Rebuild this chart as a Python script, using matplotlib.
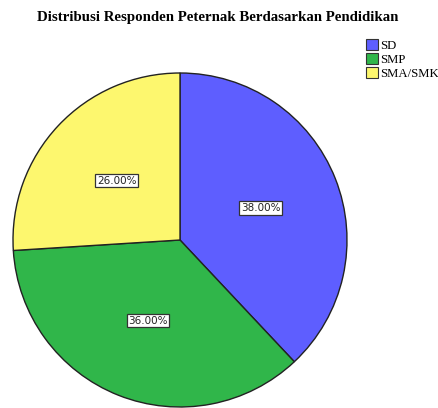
import matplotlib.pyplot as plt
from matplotlib.patches import Patch

# Data
categories = ['SD', 'SMP', 'SMA/SMK']
values = [38, 36, 26]
colors = ['#5e5eff', '#30b64a', '#fdf76e']

fig = plt.figure(figsize=(4.38, 4.08), dpi=100)

# axes box placed so the pie sits where it does in the reference
cx, cy, r = 180, 240, 167
ax = fig.add_axes([(cx - r) / 438, (408 - cy - r) / 408, 2 * r / 438, 2 * r / 408])

wedges, texts, autotexts = ax.pie(
    values,
    colors=colors,
    startangle=90,
    counterclock=False,
    autopct='%.2f%%',
    pctdistance=0.52,
    radius=1,
    wedgeprops=dict(edgecolor='#222222', linewidth=1.0),
    textprops=dict(fontsize=7.5, color='#222222'),
)
for t in autotexts:
    t.set_bbox(dict(boxstyle='square,pad=0.15', facecolor='white',
                    edgecolor='#333333', linewidth=0.9))

ax.set_xlim(-1, 1)
ax.set_ylim(-1, 1)
ax.axis('off')

fig.text(218 / 438, 1 - 17 / 408,
         'Distribusi Responden Peternak Berdasarkan Pendidikan',
         ha='center', va='center', fontsize=10.7, fontweight='bold',
         family='Liberation Serif')

handles = [Patch(facecolor=c, edgecolor='#333333', linewidth=0.8) for c in colors]
fig.legend(handles, categories, loc='upper left',
           bbox_to_anchor=(360 / 438, 1 - 33 / 408),
           frameon=False, handlelength=0.9, handleheight=0.9,
           handletextpad=0.15, labelspacing=0.1, borderpad=0,
           prop=dict(family='Liberation Serif', size=9.2))

fig.savefig('out.png', dpi=100)
